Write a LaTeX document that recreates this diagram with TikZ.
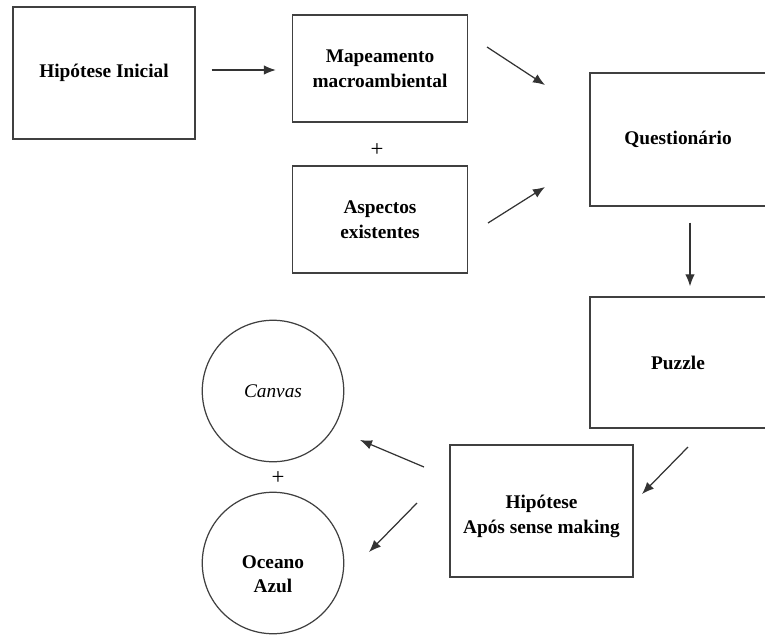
\documentclass[tikz,border=0pt]{standalone}
\usepackage{fontspec}
\setmainfont{Liberation Serif}
\usetikzlibrary{arrows.meta,shapes,calc}

\tikzset{
	caixa/.style={draw=black!75, line width=0.8pt, rectangle, align=center,
		minimum width=3.5cm, minimum height=2.14cm, inner sep=0pt,
		font=\fontsize{11}{14}\selectfont\bfseries},
	bola/.style={draw=black!75, line width=0.7pt, circle, align=center,
		minimum size=2.83cm, inner sep=0pt,
		font=\fontsize{11}{14}\selectfont\bfseries},
	seta/.style={line width=0.7pt, black!80, -{Latex[length=2.4mm,width=1.9mm]}}
}

\begin{document}
\begin{tikzpicture}[x=0.02cm,y=-0.02cm]

	\clip (0,0) rectangle (765,636);

	\node[caixa, minimum width=3.64cm, minimum height=2.64cm] (ini) at (104,73) {Hipótese Inicial};
	\node[caixa] (map) at (380,68.5) {Mapeamento\\macroambiental};
	\node[caixa] (asp) at (380,219.5) {Aspectos\\existentes};
	\node[caixa, minimum width=3.52cm, minimum height=2.66cm] (que) at (678,139.5) {Questionário};
	\node[caixa, minimum width=3.52cm, minimum height=2.62cm] (puz) at (678,362.5) {Puzzle};
	\node[caixa, minimum width=3.66cm, minimum height=2.64cm] (hip) at (541.5,511) {\rule{0pt}{14pt}Hipótese\\Após sense making};
	\node[bola] (can) at (273,391) {\mdseries\itshape Canvas};
	\node[bola] (oce) at (273,563) {\rule{0pt}{20pt}Oceano\\Azul};

	\node[font=\fontsize{13}{14}\selectfont] (mais1) at (377,150) {+};
	\node[font=\fontsize{13}{14}\selectfont] (mais2) at (278,478) {+};

	% pontas soltas das setas
	\coordinate (m1) at (487,47);
	\coordinate (q1) at (545,85);
	\coordinate (a1) at (488,223);
	\coordinate (q2) at (545,187);
	\coordinate (p1) at (688,447);
	\coordinate (h1) at (642,494);
	\coordinate (h2) at (424,467);
	\coordinate (c1) at (360,440);
	\coordinate (h3) at (417,503);
	\coordinate (o1) at (369,552);

	\draw[seta, shorten <=0.32cm, shorten >=0.32cm] (ini.east |- 0,70) -- (map.west |- 0,70);
	\draw[seta] (m1) -- (q1);
	\draw[seta] (a1) -- (q2);
	\draw[seta, shorten <=0.32cm, shorten >=0.2cm] (que.south -| 690,0) -- (puz.north -| 690,0);
	\draw[seta] (p1) -- (h1);
	\draw[seta] (h2) -- (c1);
	\draw[seta] (h3) -- (o1);

\end{tikzpicture}
\end{document}
